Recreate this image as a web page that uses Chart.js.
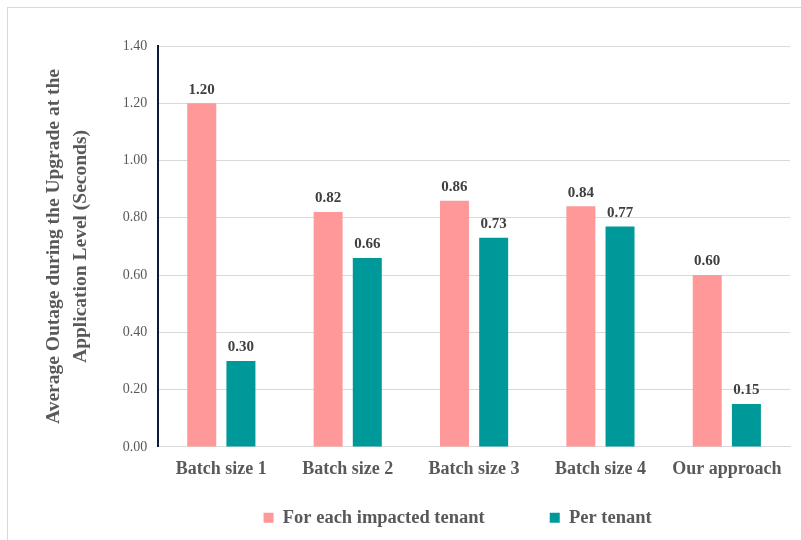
<!DOCTYPE html>
<html>
<head>
<meta charset="utf-8">
<script src="https://cdn.jsdelivr.net/npm/chart.js@4.4.1/dist/chart.umd.min.js"></script>
<style>
  html, body { margin: 0; padding: 0; background: #fff; }
  #wrap { width: 801px; height: 540px; }
</style>
</head>
<body>
<div id="wrap"><canvas id="outageChart" width="801" height="540"></canvas></div>
<script>
// data
const categories = ["Batch size 1", "Batch size 2", "Batch size 3", "Batch size 4", "Our approach"];
const impactedTenant = [1.20, 0.82, 0.86, 0.84, 0.60];
const perTenant = [0.30, 0.66, 0.73, 0.77, 0.15];
const yTicks = [0, 0.2, 0.4, 0.6, 0.8, 1.0, 1.2, 1.4];

const serif = "'Liberation Serif', 'Times New Roman', serif";
const grey = "#595959";

// light frame around the whole picture
const framePlugin = {
    id: "frame",
    beforeDraw(chart) {
        const ctx = chart.ctx;
        ctx.save();
        ctx.strokeStyle = "#d9d9d9";
        ctx.lineWidth = 1;
        ctx.strokeRect(7.5, 7.5, 810, 560);
        ctx.restore();
    }
};

// value labels above each bar
const valueLabels = {
    id: "valueLabels",
    afterDatasetsDraw(chart) {
        const ctx = chart.ctx;
        ctx.save();
        ctx.font = "bold 15px " + serif;
        ctx.fillStyle = "#404040";
        ctx.textAlign = "center";
        ctx.textBaseline = "bottom";
        chart.data.datasets.forEach((ds, i) => {
            chart.getDatasetMeta(i).data.forEach((bar, j) => {
                ctx.fillText(ds.data[j].toFixed(2), bar.x, bar.y - 6);
            });
        });
        ctx.restore();
    }
};

const data = {
    labels: categories,
    datasets: [{
        label: "For each impacted tenant",
        data: impactedTenant,
        backgroundColor: "#FF9999",
        categoryPercentage: 0.62,
        barPercentage: 0.74
    }, {
        label: "Per tenant",
        data: perTenant,
        backgroundColor: "#009999",
        categoryPercentage: 0.62,
        barPercentage: 0.74
    }]
};

const config = {
    type: "bar",
    data: data,
    plugins: [framePlugin, valueLabels],
    options: {
        responsive: false,
        animation: false,
        layout: { padding: { top: 46, right: 11, bottom: 3, left: 41 } },
        plugins: {
            tooltip: { enabled: false },
            legend: {
                position: "bottom",
                // empty title with negative padding, so the wide item gap
                // does not also push the legend row down
                title: {
                    display: true,
                    text: "",
                    font: { size: 12, lineHeight: 1 },
                    padding: { top: -53, bottom: 0 }
                },
                labels: {
                    boxWidth: 10,
                    boxHeight: 10,
                    padding: 65,
                    color: grey,
                    font: { family: serif, size: 18.5, weight: "bold" },
                    // blank first entry nudges the legend row to the right
                    generateLabels(chart) {
                        const items = Chart.defaults.plugins.legend.labels.generateLabels(chart);
                        items.unshift({ text: "", fillStyle: "rgba(0,0,0,0)", strokeStyle: "rgba(0,0,0,0)", lineWidth: 0, hidden: false, datasetIndex: -1 });
                        return items;
                    }
                }
            }
        },
        scales: {
            x: {
                grid: { display: false },
                border: { color: "#d9d9d9", width: 1 },
                ticks: {
                    color: grey,
                    padding: 4,
                    font: { family: serif, size: 18, weight: "bold" }
                }
            },
            y: {
                min: 0,
                max: 1.4,
                afterBuildTicks(scale) {
                    scale.ticks = yTicks.map(v => ({ value: v }));
                },
                grid: { color: "#d9d9d9", drawTicks: false },
                border: { color: "#0d1b3e", width: 2 },
                ticks: {
                    color: grey,
                    padding: 11,
                    font: { family: serif, size: 14 },
                    callback: v => v.toFixed(2)
                },
                title: {
                    display: true,
                    text: ["Average Outage during the Upgrade at the", "Application Level (Seconds)"],
                    color: grey,
                    padding: { top: 0, bottom: 18 },
                    font: { family: serif, size: 19.5, weight: "bold", lineHeight: 1.35 }
                }
            }
        }
    }
};

const outageChart = new Chart(document.querySelector("#outageChart"), config);
</script>
</body>
</html>
